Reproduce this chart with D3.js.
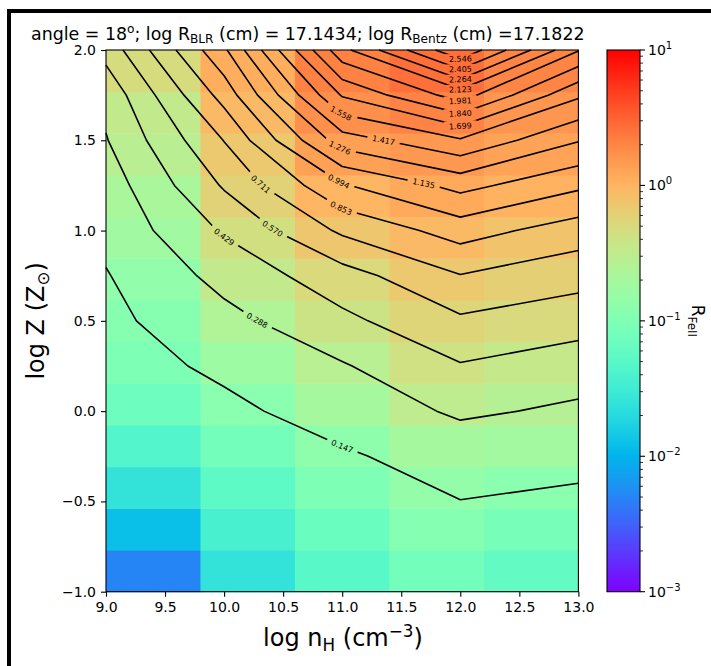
<!DOCTYPE html>
<html>
<head>
<meta charset="utf-8">
<script src="https://cdn.jsdelivr.net/npm/d3@7/dist/d3.min.js"></script>
<style>
  body { margin: 0; background: #fff; }
  svg { display: block; }
  text { font-family: "DejaVu Sans", sans-serif; fill: #000; }
</style>
</head>
<body>
<svg id="chart" width="711" height="666"></svg>
<script>
// Model grid: hydrogen density (log n_H) by metallicity (log Z)
const logNH = [9, 10, 11, 12, 13];
const logZ = [-1, -0.75, -0.5, -0.25, 0, 0.25, 0.5, 0.75, 1, 1.25, 1.5, 1.75, 2];

// R_FeII along log Z for each log n_H
const rFeNH9  = [0.005, 0.012, 0.025, 0.044, 0.07, 0.095, 0.113, 0.139, 0.183, 0.214, 0.28, 0.33, 0.479];
const rFeNH10 = [0.025, 0.037, 0.055, 0.08, 0.12, 0.17, 0.245, 0.333, 0.445, 0.585, 0.715, 0.907, 1.11];
const rFeNH11 = [0.05, 0.068, 0.095, 0.132, 0.2, 0.276, 0.396, 0.511, 0.736, 0.98, 1.35, 1.712, 2.08];
const rFeNH12 = [0.08, 0.11, 0.145, 0.2, 0.31, 0.419, 0.547, 0.705, 0.915, 1.18, 1.54, 2.045, 2.67];
const rFeNH13 = [0.06, 0.085, 0.118, 0.19, 0.265, 0.35, 0.49, 0.62, 0.783, 1.02, 1.285, 1.58, 1.99];

const contourLevels = [0.147, 0.288, 0.429, 0.570, 0.711, 0.853, 0.994, 1.135, 1.276,
                       1.417, 1.558, 1.699, 1.840, 1.981, 2.123, 2.264, 2.405, 2.546];
// log n_H at which each contour carries its label
const labelNH = [11.0, 10.28, 10.0, 10.41, 10.31, 10.99, 10.97, 11.69, 10.98,
                 11.35, 10.99, 12, 12, 12, 12, 12, 12, 12];

const xTicks = [9, 9.5, 10, 10.5, 11, 11.5, 12, 12.5, 13];
const yTicks = [-1, -0.5, 0, 0.5, 1, 1.5, 2];
const cbarDecades = [-3, -2, -1, 0, 1];

const grid = [rFeNH9, rFeNH10, rFeNH11, rFeNH12, rFeNH13];

const svg = d3.select("#chart");
const W = 711, H = 666;
const plot = { left: 106, right: 578.4, top: 50, bottom: 591.7 };
const cbar = { left: 607, right: 640, top: 50, bottom: 591.7 };

// matplotlib "rainbow" colormap
function rainbow(t) {
  t = Math.max(0, Math.min(1, t));
  const r = Math.min(1, Math.abs(2 * t - 0.5));
  const g = Math.sin(Math.PI * t);
  const b = Math.cos(Math.PI * t / 2);
  return d3.rgb(r * 255, g * 255, b * 255).formatHex();
}
const norm = d3.scaleLog().domain([1e-3, 10]).range([0, 1]).clamp(true);
const colorOf = v => rainbow(norm(v));

const x = d3.scaleLinear().domain([9, 13]).range([plot.left, plot.right]);
const y = d3.scaleLinear().domain([-1, 2]).range([plot.bottom, plot.top]);
const xBand = d3.scaleBand().domain(logNH).range([plot.left, plot.right]);
const yBand = d3.scaleBand().domain(logZ).range([plot.bottom, plot.top]);

// page frame
svg.append("rect").attr("x", 9).attr("y", 11).attr("width", 900).attr("height", 900)
  .attr("fill", "none").attr("stroke", "#000").attr("stroke-width", 4);

// heat map cells
const cells = [];
logNH.forEach((nh, i) => logZ.forEach((z, j) => cells.push({ nh, z, v: grid[i][j] })));
svg.append("g").selectAll("rect").data(cells).join("rect")
  .attr("x", d => xBand(d.nh)).attr("y", d => yBand(d.z))
  .attr("width", xBand.bandwidth() + 0.5).attr("height", yBand.bandwidth() + 0.5)
  .attr("fill", d => colorOf(d.v));

// contour lines by marching squares on the model grid
function contourLines(level) {
  const nx = logNH.length, ny = logZ.length;
  const segs = [];
  const hEdge = (i, j) => {
    const a = grid[i][j], b = grid[i + 1][j], t = (level - a) / (b - a);
    return { id: `h${i}_${j}`, x: logNH[i] + t * (logNH[i + 1] - logNH[i]), y: logZ[j] };
  };
  const vEdge = (i, j) => {
    const a = grid[i][j], b = grid[i][j + 1], t = (level - a) / (b - a);
    return { id: `v${i}_${j}`, x: logNH[i], y: logZ[j] + t * (logZ[j + 1] - logZ[j]) };
  };
  const cross = (a, b) => (a < level) !== (b < level);
  for (let i = 0; i < nx - 1; i++) {
    for (let j = 0; j < ny - 1; j++) {
      const v00 = grid[i][j], v10 = grid[i + 1][j], v11 = grid[i + 1][j + 1], v01 = grid[i][j + 1];
      const pts = [];
      if (cross(v00, v10)) pts.push(hEdge(i, j)); else pts.push(null);
      if (cross(v10, v11)) pts.push(vEdge(i + 1, j)); else pts.push(null);
      if (cross(v01, v11)) pts.push(hEdge(i, j + 1)); else pts.push(null);
      if (cross(v00, v01)) pts.push(vEdge(i, j)); else pts.push(null);
      const found = pts.filter(p => p);
      if (found.length === 2) segs.push(found);
      else if (found.length === 4) {
        const c = (v00 + v10 + v11 + v01) / 4;
        if ((c < level) === (v00 < level)) { segs.push([pts[0], pts[1]]); segs.push([pts[2], pts[3]]); }
        else { segs.push([pts[0], pts[3]]); segs.push([pts[1], pts[2]]); }
      }
    }
  }
  // chain segments into polylines
  const byId = new Map();
  segs.forEach((s, k) => s.forEach(p => {
    if (!byId.has(p.id)) byId.set(p.id, []);
    byId.get(p.id).push(k);
  }));
  const used = new Array(segs.length).fill(false);
  const lines = [];
  const walk = (k, startId) => {
    const line = [];
    let cur = k, fromId = startId;
    line.push(segs[k].find(p => p.id === startId));
    while (cur != null && !used[cur]) {
      used[cur] = true;
      const nextPt = segs[cur].find(p => p.id !== fromId);
      line.push(nextPt);
      fromId = nextPt.id;
      const nb = byId.get(fromId).filter(q => !used[q]);
      cur = nb.length ? nb[0] : null;
    }
    return line;
  };
  for (const [id, ks] of byId) {
    if (ks.length === 1 && !used[ks[0]]) lines.push(walk(ks[0], id));
  }
  segs.forEach((s, k) => { if (!used[k]) lines.push(walk(k, s[0].id)); });
  return lines;
}

const lineGen = d3.line().x(p => x(p.x)).y(p => y(p.y));
const defs = svg.append("defs");
const contourG = svg.append("g");
const labelG = svg.append("g");

contourLevels.forEach((level, k) => {
  const lines = contourLines(level);
  // label placement along the line
  const lx = labelNH[k];
  let best = null;
  lines.forEach(line => {
    const px = line.map(p => [x(p.x), y(p.y)]);
    const cum = [0];
    for (let i = 1; i < px.length; i++) cum.push(cum[i - 1] + Math.hypot(px[i][0] - px[i - 1][0], px[i][1] - px[i - 1][1]));
    for (let i = 1; i < line.length; i++) {
      const a = line[i - 1], b = line[i];
      if ((a.x - lx) * (b.x - lx) <= 0 && a.x !== b.x && !best) {
        const t = (lx - a.x) / (b.x - a.x);
        best = { px, cum, s: cum[i - 1] + t * (cum[i] - cum[i - 1]) };
      }
    }
  });
  const at = (px, cum, s) => {
    s = Math.max(0, Math.min(cum[cum.length - 1], s));
    let i = 1;
    while (i < cum.length - 1 && cum[i] < s) i++;
    const t = (s - cum[i - 1]) / ((cum[i] - cum[i - 1]) || 1);
    return [px[i - 1][0] + t * (px[i][0] - px[i - 1][0]), px[i - 1][1] + t * (px[i][1] - px[i - 1][1])];
  };
  let maskId = null;
  if (best) {
    const c = at(best.px, best.cum, best.s);
    const p0 = at(best.px, best.cum, best.s - 14), p1 = at(best.px, best.cum, best.s + 14);
    let ang = Math.atan2(p1[1] - p0[1], p1[0] - p0[0]) * 180 / Math.PI;
    if (ang > 90) ang -= 180;
    if (ang < -90) ang += 180;
    const t = labelG.append("text")
      .attr("transform", `translate(${c[0]},${c[1]}) rotate(${ang})`)
      .attr("text-anchor", "middle").attr("dy", "0.35em")
      .style("font-size", "8px").attr("fill", "#222").text(level.toFixed(3));
    const w = t.node().getComputedTextLength() + 10;
    maskId = `gap${k}`;
    const m = defs.append("mask").attr("id", maskId).attr("maskUnits", "userSpaceOnUse")
      .attr("x", 0).attr("y", 0).attr("width", W).attr("height", H);
    m.append("rect").attr("width", W).attr("height", H).attr("fill", "#fff");
    m.append("rect").attr("x", -w / 2).attr("y", -5).attr("width", w).attr("height", 10)
      .attr("transform", `translate(${c[0]},${c[1]}) rotate(${ang})`).attr("fill", "#000");
  }
  contourG.append("g").attr("mask", maskId ? `url(#${maskId})` : null)
    .selectAll("path").data(lines).join("path")
    .attr("d", lineGen).attr("fill", "none").attr("stroke", "#000")
    .attr("stroke-width", 1.6).attr("stroke-linejoin", "round");
});

// axes
const fmt = v => (v < 0 ? "\u2212" : "") + Math.abs(v).toFixed(1);
const xAxis = svg.append("g").attr("transform", `translate(0,${plot.bottom})`)
  .call(d3.axisBottom(x).tickValues(xTicks).tickFormat(fmt).tickSize(5).tickPadding(5));
const yAxis = svg.append("g").attr("transform", `translate(${plot.left},0)`)
  .call(d3.axisLeft(y).tickValues(yTicks).tickFormat(fmt).tickSize(5).tickPadding(5));
[xAxis, yAxis].forEach(a => {
  a.select(".domain").remove();
  a.selectAll("text").style("font-size", "14px").attr("fill", "#000");
  a.selectAll("line").attr("stroke", "#000").attr("stroke-width", 1.1);
});
svg.append("rect").attr("x", plot.left).attr("y", plot.top)
  .attr("width", plot.right - plot.left).attr("height", plot.bottom - plot.top)
  .attr("fill", "none").attr("stroke", "#000").attr("stroke-width", 1.1);

// text with sub/superscripts
function rich(sel, parts, size) {
  let shift = 0;
  parts.forEach(p => {
    const target = p.sub ? size * 0.22 : p.sup ? -size * 0.38 : 0;
    sel.append("tspan").attr("dy", target - shift)
      .style("font-size", (p.sub || p.sup ? size * 0.7 : size) + "px").text(p.t);
    shift = target;
  });
  return sel;
}

rich(svg.append("text").attr("x", 343).attr("y", 646).attr("text-anchor", "middle"),
  [{ t: "log n" }, { t: "H", sub: true }, { t: " (cm" }, { t: "\u22123", sup: true }, { t: ")" }], 24);

rich(svg.append("text").attr("transform", `translate(44,${(plot.top + plot.bottom) / 2}) rotate(-90)`).attr("text-anchor", "middle"),
  [{ t: "log Z (Z" }, { t: "\u2299", sub: true }, { t: ")" }], 24);

rich(svg.append("text").attr("x", 31).attr("y", 39.5),
  [{ t: "angle = 18" }, { t: "o", sup: true }, { t: "; log R" }, { t: "BLR", sub: true },
   { t: " (cm) = 17.1434; log R" }, { t: "Bentz", sub: true }, { t: " (cm) =17.1822" }], 17.4);

// colour bar
const cy = d3.scaleLog().domain([1e-3, 10]).range([cbar.bottom, cbar.top]);
const grad = defs.append("linearGradient").attr("id", "cbgrad")
  .attr("x1", 0).attr("y1", 1).attr("x2", 0).attr("y2", 0);
d3.range(0, 1.0001, 1 / 64).forEach(t => grad.append("stop").attr("offset", t).attr("stop-color", rainbow(t)));
svg.append("rect").attr("x", cbar.left).attr("y", cbar.top)
  .attr("width", cbar.right - cbar.left).attr("height", cbar.bottom - cbar.top)
  .attr("fill", "url(#cbgrad)").attr("stroke", "#000").attr("stroke-width", 1.1);

const minor = [];
cbarDecades.slice(0, -1).forEach(d => { for (let m = 2; m <= 9; m++) minor.push(m * Math.pow(10, d)); });
svg.append("g").selectAll("line").data(minor).join("line")
  .attr("x1", cbar.right).attr("x2", cbar.right + 3)
  .attr("y1", d => cy(d)).attr("y2", d => cy(d)).attr("stroke", "#000").attr("stroke-width", 0.8);
svg.append("g").selectAll("line").data(cbarDecades).join("line")
  .attr("x1", cbar.right).attr("x2", cbar.right + 5)
  .attr("y1", d => cy(Math.pow(10, d))).attr("y2", d => cy(Math.pow(10, d))).attr("stroke", "#000").attr("stroke-width", 1.1);
cbarDecades.forEach(d => {
  const t = svg.append("text").attr("x", cbar.right + 8).attr("y", cy(Math.pow(10, d)) + 5);
  t.append("tspan").style("font-size", "14px").text("10");
  t.append("tspan").attr("dy", -6).style("font-size", "10px").text(d < 0 ? "\u2212" + Math.abs(d) : String(d));
});
rich(svg.append("text").attr("transform", `translate(692,${(cbar.top + cbar.bottom) / 2}) rotate(90)`).attr("text-anchor", "middle"),
  [{ t: "R" }, { t: "FeII", sub: true }], 17);
</script>
</body>
</html>
